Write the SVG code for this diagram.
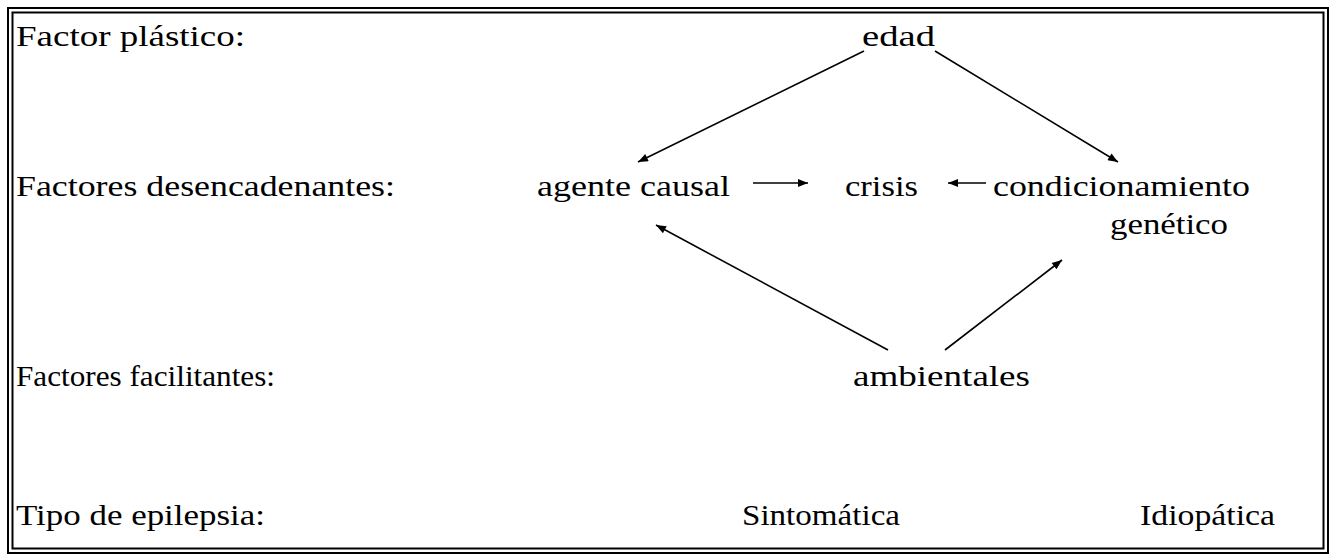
<svg xmlns="http://www.w3.org/2000/svg" width="1335" height="556" viewBox="0 0 1335 556">
<style>
.t{font-family:'Liberation Serif','Times New Roman',Times,serif;font-size:30px;fill:#000}
.b{fill:none;stroke:#000;stroke-width:2}
.c{stroke:#000;stroke-width:1.6;fill:none}
</style>
<defs>
<marker id="ah" viewBox="0 0 10 8" refX="10" refY="4" markerWidth="11" markerHeight="8" markerUnits="userSpaceOnUse" orient="auto">
<path d="M0,0 L10,4 L0,8 Z" fill="#000"/>
</marker>
</defs>
<rect width="1335" height="556" fill="#fff"/>
<g id="frame">
<rect class="b" x="8" y="8" width="1320" height="545"/>
<rect class="b" x="12.5" y="12.5" width="1311" height="536"/>
</g>
<g id="labels" class="t">
<text x="16" y="46" textLength="229" lengthAdjust="spacingAndGlyphs">Factor plástico:</text>
<text x="16" y="196" textLength="379" lengthAdjust="spacingAndGlyphs">Factores   desencadenantes:</text>
<text x="16" y="386" textLength="259" lengthAdjust="spacingAndGlyphs">Factores facilitantes:</text>
<text x="16" y="525" textLength="249" lengthAdjust="spacingAndGlyphs">Tipo de epilepsia:</text>
</g>
<g id="edad" class="t"><text x="862" y="46" textLength="73" lengthAdjust="spacingAndGlyphs">edad</text></g>
<g id="agente" class="t"><text x="537" y="196" textLength="193" lengthAdjust="spacingAndGlyphs">agente causal</text></g>
<g id="crisis" class="t"><text x="845" y="196" textLength="73" lengthAdjust="spacingAndGlyphs">crisis</text></g>
<g id="condicionamiento" class="t">
<text x="993" y="196" textLength="257" lengthAdjust="spacingAndGlyphs">condicionamiento</text>
<text x="1110" y="234" textLength="118" lengthAdjust="spacingAndGlyphs">genético</text>
</g>
<g id="ambientales" class="t"><text x="853" y="386" textLength="177" lengthAdjust="spacingAndGlyphs">ambientales</text></g>
<g id="sintomatica" class="t"><text x="742" y="525" textLength="158" lengthAdjust="spacingAndGlyphs">Sintomática</text></g>
<g id="idiopatica" class="t"><text x="1140" y="525" textLength="135" lengthAdjust="spacingAndGlyphs">Idiopática</text></g>
<g id="connectors">
<line class="c" x1="864" y1="51" x2="638" y2="162" marker-end="url(#ah)"/>
<line class="c" x1="935" y1="51" x2="1118" y2="162" marker-end="url(#ah)"/>
<line class="c" x1="753" y1="183" x2="808" y2="183" marker-end="url(#ah)"/>
<line class="c" x1="986" y1="183" x2="948" y2="183" marker-end="url(#ah)"/>
<line class="c" x1="888" y1="350" x2="656" y2="225" marker-end="url(#ah)"/>
<line class="c" x1="945" y1="350" x2="1062" y2="260" marker-end="url(#ah)"/>
</g>
</svg>
